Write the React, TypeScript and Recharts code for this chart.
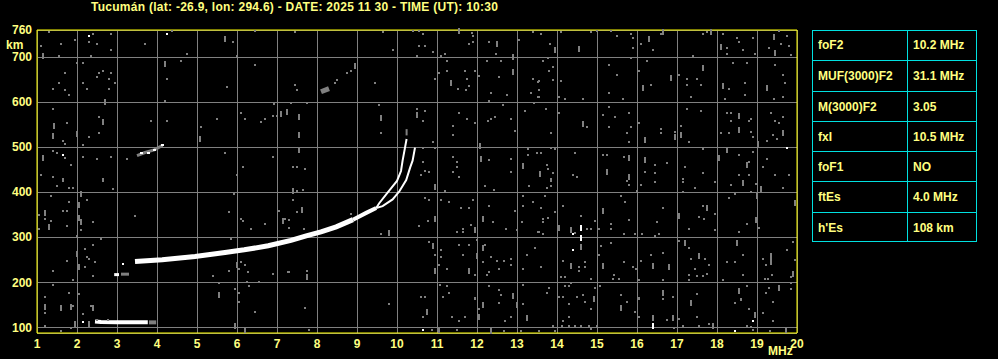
import {
  CartesianGrid,
  ComposedChart,
  Line,
  ReferenceArea,
  Scatter,
  XAxis,
  YAxis
} from "recharts";

const TITLE = "Tucumán (lat: -26.9, lon: 294.6) - DATE: 2025 11 30 - TIME (UT): 10:30";

const FREQ_TICKS = [1, 2, 3, 4, 5, 6, 7, 8, 9, 10, 11, 12, 13, 14, 15, 16, 17, 18, 19, 20];
const HEIGHT_TICKS = [100, 200, 300, 400, 500, 600, 700, 760];

const TABLE_LABELS = ["foF2", "MUF(3000)F2", "M(3000)F2", "fxI", "foF1", "ftEs", "h'Es"];
const TABLE_VALUES = ["10.2 MHz", "31.1 MHz", "3.05", "10.5 MHz", "NO", "4.0 MHz", "108 km"];

// traces: [MHz, km]
const F_TRACE_LOW = [[3.45, 246], [4.13, 250], [4.95, 257], [5.7, 266], [6.18, 272], [6.78, 281], [7.35, 293], [7.73, 303], [8.1, 312], [8.48, 323], [8.9, 339]];
const F_TRACE_MID = [[8.9, 339], [9.23, 354], [9.48, 365]];
const O_TRACE = [[9.48, 365], [9.56, 376], [9.73, 395], [9.89, 413], [10.0, 425], [10.1, 447], [10.14, 470], [10.2, 499], [10.24, 518]];
const X_TRACE = [[9.48, 365], [9.64, 369], [9.89, 384], [10.06, 402], [10.23, 427], [10.33, 455], [10.39, 470], [10.45, 499]];
const ES_TRACE = [[2.45, 113], [2.6, 112], [3.0, 111], [3.4, 111], [3.77, 111]];
const ES_TAIL = [[3.8, 111], [3.98, 111]];
const HOP2_TRACE = [[3.5, 481], [3.7, 488], [3.93, 494], [4.14, 504]];
const HOP2_WHITE = [[3.6, 486], [3.79, 486], [3.93, 494], [4.14, 504]];
const E_BIT = [[2.93, 217], [3.05, 217]];
const E_BIT_GRAY = [[3.1, 218], [3.3, 218]];
const F_MULTI = [[8.1, 623], [8.3, 630]];
const O_TOP = [[10.24, 526], [10.24, 540]];

const WHITE_DOTS = [[2.29, 747], [4.24, 752], [1.66, 482], [19.74, 499], [10.64, 95], [18.89, 113], [18.45, 91], [14.39, 308], [14.39, 271], [3.16, 240], [2.14, 111]];
const WHITE_DASHES = [[14.6, 320], [14.6, 298], [16.39, 102]];

const GRAY_DOTS = [
  [1.29, 755], [2.39, 752], [2.85, 752], [1.6, 730], [1.95, 737], [2.29, 733], [2.49, 730], [2.85, 716], [1.1, 724], [1.54, 702], [2.35, 702], [3.7, 730], [4.75, 707], [5.89, 733], [6.45, 758], [6.0, 702], [2.14, 687], [2.0, 687], [1.7, 665], [1.54, 642], [1.39, 629], [1.7, 626], [1.79, 616], [2.14, 642], [2.24, 629], [2.49, 655], [2.56, 665], [2.64, 669], [2.85, 665], [2.79, 652], [2.95, 642], [2.79, 629], [4.6, 691], [4.25, 652], [4.2, 602], [5.75, 633], [6.45, 683], [1.39, 585], [1.75, 554], [1.64, 513], [1.7, 508], [2.14, 505], [2.29, 522], [2.54, 566], [2.54, 531], [3.85, 557], [4.25, 557], [5.1, 544], [5.5, 562], [6.1, 575], [6.2, 562], [6.6, 555], [6.7, 562], [6.89, 570], [6.99, 568], [6.93, 596], [1.39, 491], [1.5, 488], [1.7, 475], [1.85, 460], [2.14, 479], [2.49, 473], [2.85, 477], [3.25, 473], [1.1, 438], [1.39, 433], [1.64, 429], [2.64, 429], [5.7, 486], [6.14, 455], [6.89, 477], [5.99, 438], [4.37, 758],
  [7.45, 755], [9.65, 755], [10.39, 758], [10.56, 758], [10.64, 752], [9.89, 716], [10.56, 724], [10.7, 724], [10.89, 711], [11.87, 753], [11.89, 747], [11.81, 730], [11.89, 733], [12.31, 733], [12.47, 707], [13.06, 738], [13.39, 755], [11.1, 702], [11.2, 707], [11.25, 692], [10.5, 702], [12.25, 691], [12.6, 691], [8.85, 669], [8.74, 665], [8.5, 649], [8.45, 643], [9.45, 643], [7.45, 638], [7.5, 626], [10.95, 652], [11.04, 665], [11.25, 669], [11.52, 628], [11.7, 670], [11.75, 652], [11.79, 635], [11.72, 626], [11.95, 669], [12.04, 657], [12.56, 655], [12.35, 620], [12.74, 616], [13.39, 652], [13.53, 644], [13.35, 620], [13.53, 611], [12.29, 602], [12.64, 594], [13.43, 597], [7.35, 597], [7.75, 597], [9.54, 594], [9.6, 531], [10.5, 585], [10.7, 580], [10.64, 557], [11.54, 575], [11.39, 548], [11.75, 562], [11.95, 553], [12.27, 559], [12.35, 562], [12.45, 566], [12.85, 562], [12.95, 535], [13.2, 580], [11.39, 527], [10.89, 511], [10.64, 499], [10.95, 499], [7.39, 455], [7.5, 455], [7.7, 451], [10.64, 468], [10.79, 444], [10.6, 438], [11.39, 477], [11.49, 468], [11.49, 455], [11.39, 445], [11.56, 433], [12.85, 474], [12.85, 445], [13.28, 496], [13.28, 482], [13.49, 487], [12.29, 471], [10.7, 446],
  [13.6, 752], [14.1, 755], [13.83, 730], [14.85, 755], [15.5, 747], [15.85, 752], [15.89, 742], [15.89, 720], [16.1, 730], [16.6, 752], [17.64, 752], [17.75, 755], [18.14, 752], [18.25, 720], [18.24, 707], [18.5, 743], [18.54, 733], [18.64, 716], [18.89, 743], [18.95, 707], [17.39, 702], [19.74, 746], [19.6, 730], [19.81, 724], [19.85, 704], [13.64, 691], [13.78, 698], [13.89, 678], [13.8, 669], [13.89, 650], [13.54, 646], [13.54, 626], [13.54, 611], [14.1, 646], [14.04, 611], [14.2, 607], [14.64, 607], [15.31, 683], [15.5, 660], [15.29, 620], [15.64, 607], [15.85, 698], [16.25, 691], [16.04, 670], [16.35, 638], [17.04, 659], [17.25, 652], [17.25, 638], [17.5, 652], [17.59, 638], [17.35, 611], [18.29, 629], [18.2, 607], [18.39, 686], [18.74, 686], [18.7, 643], [18.7, 616], [19.43, 607], [19.64, 611], [19.64, 660], [19.7, 643], [19.46, 683], [13.73, 585], [14.04, 575], [13.85, 531], [14.75, 544], [15.29, 588], [15.14, 571], [15.45, 566], [15.29, 545], [15.79, 575], [15.85, 545], [15.74, 531], [15.79, 512], [16.04, 553], [16.6, 540], [16.6, 531], [16.95, 533], [17.1, 548], [17.29, 511], [17.25, 585], [17.59, 580], [18.25, 575], [18.35, 575], [18.35, 557], [18.85, 562], [18.79, 557], [18.1, 531], [18.3, 531], [18.85, 533], [18.89, 522], [19.35, 575], [19.64, 566], [19.45, 557], [19.54, 553], [19.39, 527], [19.49, 519], [19.24, 513], [13.49, 486], [13.6, 486], [13.85, 499], [13.95, 496], [13.74, 460], [13.77, 451], [13.89, 442], [13.85, 429], [14.45, 486], [14.39, 438], [14.49, 433], [15.14, 482], [15.25, 482], [15.68, 477], [16.45, 460], [16.75, 464], [16.2, 444], [16.45, 442], [17.14, 429], [17.2, 455], [17.64, 496], [17.64, 442], [18.54, 482], [18.79, 468], [18.79, 438], [18.54, 438], [18.89, 490], [19.24, 474], [19.14, 455], [19.46, 438], [19.79, 438], [14.99, 758], [15.35, 758], [16.39, 715], [19.31, 721], [19.54, 758],
  [1.5, 413], [1.64, 424], [1.79, 410], [1.89, 410], [1.35, 391], [2.89, 408], [2.64, 424], [1.79, 378], [2.24, 382], [1.64, 359], [1.75, 359], [1.04, 350], [1.2, 341], [1.35, 337], [1.04, 318], [1.75, 324], [2.1, 315], [2.39, 333], [3.45, 347], [5.79, 355], [5.93, 395], [6.1, 341], [6.14, 335], [6.35, 318], [6.7, 329], [7.04, 359], [7.21, 341], [7.31, 321], [2.0, 302], [2.59, 296], [2.39, 283], [2.2, 274], [2.24, 256], [2.31, 252], [2.45, 244], [2.2, 234], [1.75, 248], [1.39, 226], [2.41, 213], [1.89, 204], [1.39, 194], [1.79, 177], [2.04, 174], [1.2, 168], [1.89, 148], [2.35, 148], [1.2, 131], [2.14, 130], [1.85, 99], [1.2, 104], [1.6, 91], [5.85, 296], [5.79, 226], [5.39, 213], [6.1, 244], [6.2, 239], [6.27, 222], [6.06, 229], [5.54, 198], [5.96, 186], [6.24, 200], [6.29, 191], [6.54, 200], [6.89, 218], [7.28, 222], [6.04, 176], [6.04, 157], [6.45, 135], [2.49, 117], [2.77, 117], [3.14, 241],
  [7.5, 402], [7.64, 404], [7.39, 382], [7.51, 355], [7.29, 338], [7.68, 318], [8.85, 352], [9.6, 307], [11.2, 402], [10.7, 386], [10.79, 382], [11.1, 382], [11.3, 378], [10.77, 337], [10.56, 324], [11.6, 364], [11.79, 364], [11.89, 382], [11.5, 311], [11.64, 318], [11.64, 311], [11.85, 328], [12.19, 413], [12.43, 404], [12.29, 369], [12.39, 333], [12.72, 319], [12.95, 359], [13.14, 391], [13.29, 413], [13.39, 378], [13.14, 369], [13.12, 333], [13.53, 311], [12.99, 317], [10.79, 289], [11.1, 271], [10.95, 261], [11.1, 256], [11.54, 283], [11.79, 283], [11.64, 261], [11.99, 293], [12.2, 283], [12.35, 256], [12.5, 248], [12.67, 248], [12.85, 252], [12.14, 244], [12.3, 222], [12.56, 229], [12.85, 239], [13.14, 229], [13.24, 261], [13.45, 275], [11.04, 239], [11.25, 229], [11.95, 217], [12.25, 217], [7.29, 222], [7.75, 226], [9.79, 152], [7.7, 144], [11.08, 194], [11.25, 191], [11.3, 177], [11.14, 168], [10.61, 168], [10.7, 168], [10.64, 122], [10.87, 94], [11.37, 122], [11.49, 94], [11.7, 122], [11.54, 113], [12.06, 140], [12.29, 191], [12.54, 182], [12.6, 172], [12.54, 154], [13.14, 194], [13.14, 152], [12.85, 122], [12.7, 113], [12.68, 91], [13.1, 91], [7.79, 95], [11.96, 166], [11.96, 163],
  [13.85, 424], [13.85, 413], [13.75, 410], [13.7, 391], [13.6, 365], [13.64, 341], [13.64, 333], [13.77, 343], [13.54, 311], [13.64, 307], [13.95, 355], [14.14, 369], [14.46, 309], [14.6, 347], [14.75, 319], [14.85, 319], [14.95, 337], [15.05, 319], [15.35, 329], [15.35, 318], [15.6, 391], [15.7, 378], [15.8, 339], [15.68, 307], [15.95, 307], [15.79, 417], [15.74, 424], [15.99, 402], [16.1, 417], [16.45, 422], [16.13, 307], [16.64, 364], [16.49, 333], [16.45, 302], [16.54, 307], [17.14, 422], [17.14, 400], [17.45, 410], [17.64, 369], [17.55, 346], [17.68, 341], [17.95, 352], [17.95, 315], [17.29, 318], [17.95, 422], [18.35, 417], [18.45, 397], [18.31, 386], [18.56, 311], [18.74, 329], [18.85, 400], [18.97, 419], [19.04, 320], [19.64, 410], [19.89, 289], [19.95, 250], [19.74, 271], [19.14, 252], [19.22, 239], [19.37, 217], [19.21, 208], [19.28, 208], [19.85, 211], [19.31, 187], [19.22, 176], [19.85, 186], [19.85, 198], [13.6, 234], [14.14, 248], [14.54, 234], [14.7, 244], [14.7, 234], [14.56, 226], [14.1, 211], [14.2, 211], [14.85, 208], [15.05, 261], [15.1, 280], [15.35, 287], [15.43, 217], [15.39, 208], [15.54, 208], [15.68, 244], [15.89, 234], [15.97, 229], [16.1, 248], [16.35, 261], [16.64, 266], [16.64, 205], [16.04, 204], [17.06, 291], [17.3, 275], [17.35, 252], [17.7, 252], [17.79, 239], [17.45, 229], [17.3, 217], [17.5, 215], [17.64, 213], [17.75, 218], [17.3, 205], [18.14, 204], [18.25, 244], [18.45, 244], [18.64, 261], [18.64, 217], [13.79, 187], [13.75, 176], [14.04, 168], [14.14, 168], [14.2, 191], [14.3, 191], [14.35, 198], [14.49, 168], [14.29, 152], [14.64, 172], [14.7, 157], [14.85, 140], [14.95, 187], [15.08, 191], [14.29, 122], [14.14, 113], [14.12, 104], [14.3, 102], [14.45, 102], [14.6, 103], [14.79, 103], [14.85, 96], [15.0, 102], [13.89, 104], [13.56, 91], [13.95, 92], [15.6, 172], [15.74, 157], [15.95, 135], [16.04, 124], [16.04, 165], [16.04, 162], [16.65, 163], [16.9, 168], [16.74, 117], [16.93, 98], [17.04, 118], [17.14, 104], [17.5, 174], [17.5, 122], [17.54, 103], [17.79, 107], [18.6, 163], [18.6, 160], [18.45, 154], [18.74, 191], [18.79, 140], [18.74, 102], [18.85, 100], [18.9, 93], [19.14, 131], [19.39, 157], [19.39, 113], [19.32, 91]
];

const GRAY_DASHES = [
  [1.14, 703], [2.7, 600], [2.64, 555], [4.2, 685], [1.43, 546], [1.41, 525], [2.0, 529], [5.08, 519], [1.14, 475], [5.7, 740], [7.1, 574], [7.24, 577],
  [11.54, 758], [12.49, 730], [12.89, 666], [11.35, 642], [8.95, 680], [7.54, 566], [7.54, 527], [7.54, 494], [9.6, 565], [10.5, 572], [12.1, 474], [12.08, 503], [13.14, 459], [13.57, 440], [12.9, 700],
  [13.95, 715], [14.54, 718], [16.29, 741], [17.85, 755], [18.1, 722], [19.43, 744], [19.45, 709], [16.14, 631], [16.85, 653], [17.64, 676], [18.14, 635], [19.24, 631], [14.64, 551], [16.2, 516], [16.95, 522], [17.1, 528], [18.54, 568], [18.54, 538], [19.64, 531], [19.03, 507], [15.24, 444], [15.79, 475], [15.79, 433], [16.2, 471], [18.04, 475], [18.25, 494], [18.74, 460], [16.64, 755],
  [2.1, 395], [2.04, 372], [1.2, 354], [1.29, 322], [2.04, 343], [2.1, 333], [7.14, 335], [2.0, 263], [2.04, 234], [1.2, 145], [1.6, 142], [1.85, 146], [2.39, 142], [1.95, 108], [2.29, 108], [6.0, 239], [5.54, 172], [5.95, 102], [6.2, 93],
  [7.39, 402], [7.62, 361], [9.79, 309], [10.95, 412], [10.95, 341], [11.95, 317], [12.14, 341], [10.89, 280], [11.99, 259], [12.14, 276], [10.96, 224], [11.79, 224], [7.75, 211], [10.75, 133], [11.04, 94], [12.14, 150], [12.05, 122], [12.89, 170], [12.99, 150], [13.24, 120], [12.35, 91],
  [14.04, 320], [14.35, 317], [14.6, 278], [15.14, 358], [17.04, 348], [17.75, 364], [18.64, 421], [18.99, 391], [19.1, 406], [18.97, 339], [19.95, 375], [19.35, 259], [19.35, 246], [19.89, 219], [19.54, 188], [14.35, 237], [15.14, 237], [16.39, 237], [16.79, 234], [17.2, 287], [17.55, 259], [18.5, 287], [15.6, 142], [16.64, 176], [16.39, 120], [16.89, 120], [17.35, 155], [17.89, 102], [18.56, 180], [18.95, 128], [19.72, 94], [14.93, 163]
];

const YELLOW = "#ffff80";
const GRAY = "#808080";
const FONT = "'Liberation Sans', Arial, sans-serif";

const pts = (arr: number[][]) => arr.map(([f, km]) => ({ f, km }));

const box = (w: number, h: number, color: string) => (props: any) => (
  <rect x={Math.round(props.cx - w / 2)} y={Math.round(props.cy - h / 2)} width={w} height={h} fill={color} shapeRendering="crispEdges" />
);

const tickStyle = { fill: YELLOW, fontSize: 12, fontWeight: "bold", fontFamily: FONT };

function ParamTable() {
  const rowH = 212 / TABLE_LABELS.length;
  return (
    <div style={{ position: "absolute", left: 812, top: 30, width: 165, height: 212, border: "1px solid #00e0e0", boxSizing: "border-box" }}>
      <div style={{ position: "absolute", left: 94, top: 0, bottom: 0, borderLeft: "1px solid #00e0e0" }} />
      {TABLE_LABELS.map((label, i) => (
        <div
          key={label}
          style={{
            position: "absolute",
            left: 0,
            width: "100%",
            top: Math.round(i * rowH) - 1,
            height: Math.round(rowH),
            borderTop: i === 0 ? "none" : "1px solid #00e0e0",
            color: YELLOW,
            fontFamily: FONT,
            fontWeight: "bold",
            fontSize: 12,
            display: "flex",
            alignItems: "center"
          }}
        >
          <span style={{ position: "absolute", left: 5 }}>{label}</span>
          <span style={{ position: "absolute", left: 100 }}>{TABLE_VALUES[i]}</span>
        </div>
      ))}
    </div>
  );
}

export default function App() {
  return (
    <div style={{ position: "absolute", left: 0, top: 0, width: 998, height: 359, background: "#000", overflow: "hidden" }}>
      <style>{`body{background:#000;margin:8px}.recharts-cartesian-grid line,.recharts-reference-area rect{shape-rendering:crispEdges}`}</style>
      <ComposedChart width={998} height={359} margin={{ top: 30, right: 201, bottom: 0, left: 0 }}>
        <CartesianGrid stroke={GRAY} strokeWidth={1} />
        <XAxis
          type="number"
          dataKey="f"
          domain={[1, 20]}
          ticks={FREQ_TICKS}
          interval={0}
          height={26}
          tick={tickStyle}
          tickLine={false}
          axisLine={false}
          tickSize={6}
          tickMargin={0}
        />
        <YAxis
          type="number"
          dataKey="km"
          domain={[87.4, 760]}
          ticks={HEIGHT_TICKS}
          interval={0}
          width={37}
          tick={tickStyle}
          tickLine={false}
          axisLine={false}
          tickSize={5}
          tickMargin={0}
        />
        <Scatter data={pts(GRAY_DOTS)} fill={GRAY} shape={box(2, 2, GRAY)} isAnimationActive={false} />
        <Scatter data={pts(GRAY_DASHES)} fill={GRAY} shape={box(2, 6, GRAY)} isAnimationActive={false} />
        <Line data={pts(HOP2_TRACE)} dataKey="km" stroke={GRAY} strokeWidth={3} dot={false} isAnimationActive={false} />
        <Line data={pts(F_MULTI)} dataKey="km" stroke={GRAY} strokeWidth={5} dot={false} isAnimationActive={false} />
        <Line data={pts(E_BIT_GRAY)} dataKey="km" stroke={GRAY} strokeWidth={3} dot={false} isAnimationActive={false} />
        <Line data={pts(ES_TAIL)} dataKey="km" stroke={GRAY} strokeWidth={4} dot={false} isAnimationActive={false} />
        <Line data={pts(O_TOP)} dataKey="km" stroke={GRAY} strokeWidth={2} dot={false} isAnimationActive={false} />
        <Line data={pts(F_TRACE_LOW)} dataKey="km" stroke="#fff" strokeWidth={5} dot={false} isAnimationActive={false} />
        <Line data={pts(F_TRACE_MID)} dataKey="km" stroke="#fff" strokeWidth={4} dot={false} isAnimationActive={false} />
        <Line data={pts(O_TRACE)} dataKey="km" stroke="#fff" strokeWidth={2} dot={false} isAnimationActive={false} />
        <Line data={pts(X_TRACE)} dataKey="km" stroke="#fff" strokeWidth={2} dot={false} isAnimationActive={false} />
        <Line data={pts(ES_TRACE)} dataKey="km" stroke="#fff" strokeWidth={4} dot={false} isAnimationActive={false} />
        <Line data={pts(E_BIT)} dataKey="km" stroke="#fff" strokeWidth={3} dot={false} isAnimationActive={false} />
        <Scatter data={pts(HOP2_WHITE)} fill="#fff" shape={box(3, 2, "#fff")} isAnimationActive={false} />
        <Scatter data={pts(WHITE_DOTS)} fill="#fff" shape={box(2, 2, "#fff")} isAnimationActive={false} />
        <Scatter data={pts(WHITE_DASHES)} fill="#fff" shape={box(2, 6, "#fff")} isAnimationActive={false} />
        <ReferenceArea x1={1} x2={20} y1={87.4} y2={760} fill="none" stroke="#ffff00" strokeWidth={1} ifOverflow="visible" />
      </ComposedChart>
      <div style={{ position: "absolute", left: 91, top: 0, color: YELLOW, fontFamily: FONT, fontWeight: "bold", fontSize: 12, lineHeight: "14px", letterSpacing: "0.27px", whiteSpace: "nowrap" }}>
        {TITLE}
      </div>
      <div style={{ position: "absolute", left: 6, top: 38, color: YELLOW, fontFamily: FONT, fontWeight: "bold", fontSize: 12, lineHeight: "14px" }}>km</div>
      <div style={{ position: "absolute", left: 768, top: 344, color: YELLOW, fontFamily: FONT, fontWeight: "bold", fontSize: 12, lineHeight: "14px" }}>MHz</div>
      <ParamTable />
    </div>
  );
}
